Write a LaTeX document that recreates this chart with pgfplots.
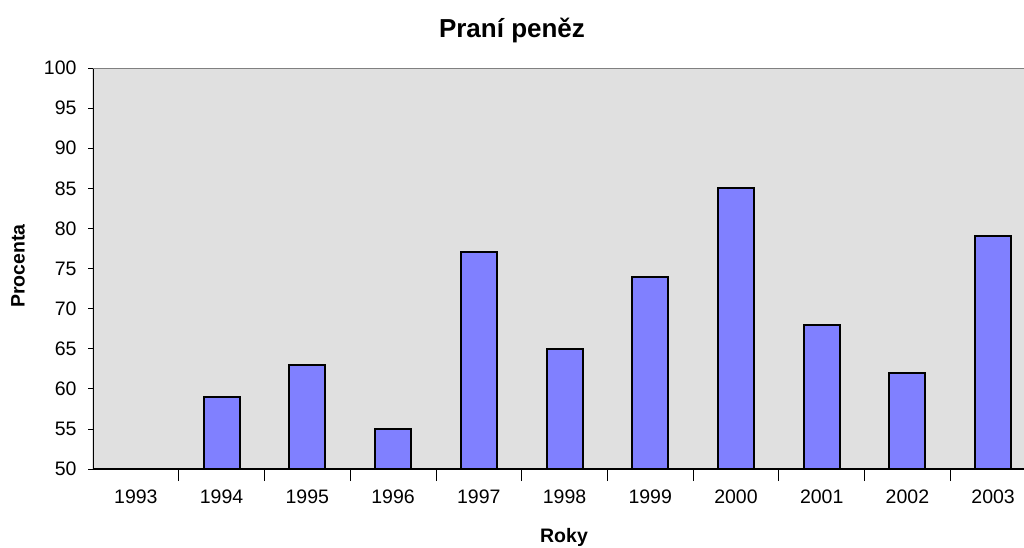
\documentclass[border=0pt]{standalone}
\usepackage{pgfplots}
\pgfplotsset{compat=1.18}
\usepackage{fontspec}
\setmainfont{Liberation Sans}
\definecolor{bgc}{RGB}{224,224,224}
\definecolor{barc}{RGB}{128,128,255}
\definecolor{topc}{RGB}{128,128,128}
\begin{document}
\begin{tikzpicture}[x=1pt,y=1pt]
\useasboundingbox (-93,-78) rectangle (931,469);
\begin{axis}[
  at={(0,0)}, anchor=south west,
  scale only axis, width=931pt, height=401pt,
  xmin=-0.5, xmax=10.36, ymin=50, ymax=100,
  axis background/.style={fill=bgc},
  axis line style={draw=none},
  ytick={50,55,...,100},
  xtick={0,...,10},
  xticklabels={1993,1994,1995,1996,1997,1998,1999,2000,2001,2002,2003},
  minor xtick={0.5,1.5,...,9.5},
  major x tick style={draw=none},
  minor x tick style={black, line width=0.8pt},
  minor tick length=12pt,
  xtick align=center,
  ytick align=outside, ytick pos=left, xtick pos=bottom,
  major tick length=5pt,
  y tick style={black, line width=0.8pt},
  tick label style={font=\fontsize{19.5}{23}\selectfont},
  /pgf/number format/assume math mode=true,
  xticklabel style={yshift=-12pt},
  yticklabel style={xshift=-8pt},
  ybar, bar width=36pt,
  clip=true,
]
\addplot[fill=barc, draw=black, line width=2pt] coordinates {
 (1,59) (2,63) (3,55) (4,77) (5,65) (6,74) (7,85) (8,68) (9,62) (10,79)
};
\draw[black, line width=1.5pt] (rel axis cs:0,0) -- (rel axis cs:0,1);
\draw[black, line width=1.5pt] (rel axis cs:0,0) -- (rel axis cs:1,0);
\draw[topc, line width=1.5pt] (rel axis cs:0,1) -- (rel axis cs:1,1);
\end{axis}
\node[font=\bfseries\fontsize{26}{30}\selectfont] at (419,439) {Praní peněz};
\node[font=\bfseries\fontsize{19.5}{23}\selectfont, rotate=90] at (-75,203) {Procenta};
\node[font=\bfseries\fontsize{19.5}{23}\selectfont] at (471,-68) {Roky};
\end{tikzpicture}
\end{document}
